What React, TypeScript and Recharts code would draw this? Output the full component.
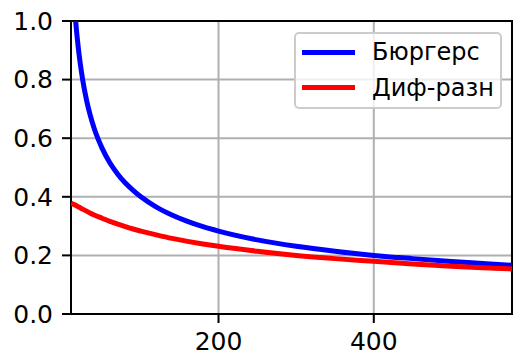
import React from 'react';
import { LineChart, Line, XAxis, YAxis, CartesianGrid, ReferenceArea } from 'recharts';

// grid size along x
const xs = [10, 12, 14, 16, 18, 20, 25, 30, 35, 40, 50, 60, 70, 80, 90, 100, 120, 140, 160, 180, 200, 250, 300, 350, 400, 450, 500, 550, 578];

const burgers = [1.265, 1.155, 1.069, 1.0, 0.943, 0.894, 0.8, 0.73, 0.676, 0.632, 0.566, 0.516, 0.478, 0.447, 0.422, 0.4, 0.365, 0.338, 0.316, 0.298, 0.283, 0.253, 0.231, 0.214, 0.2, 0.189, 0.179, 0.171, 0.166];
const difRazn = [0.378, 0.376, 0.374, 0.371, 0.368, 0.365, 0.358, 0.351, 0.344, 0.338, 0.327, 0.316, 0.307, 0.298, 0.29, 0.283, 0.27, 0.258, 0.248, 0.239, 0.231, 0.214, 0.2, 0.189, 0.18, 0.171, 0.163, 0.157, 0.154];

const xTicks = [200, 400];
const yTicks = [0, 0.2, 0.4, 0.6, 0.8, 1.0];

const series = [
  { key: 'burgers', name: 'Бюргерс', color: '#0000ff' },
  { key: 'difRazn', name: 'Диф-разн', color: '#ff0000' },
];

const data = xs.map((x, i) => ({ x, burgers: burgers[i], difRazn: difRazn[i] }));

const FONT = '"DejaVu Sans", sans-serif';
const tickStyle = { fill: '#000', fontSize: 25, fontFamily: FONT };

export default function App() {
  return (
    <div style={{ position: 'absolute', left: 0, top: 0, width: 513, height: 356, background: '#fff' }}>
      <LineChart width={513} height={356} data={data} margin={{ top: 21, right: 1, bottom: 0, left: 0 }}>
        <CartesianGrid stroke="#b0b0b0" strokeWidth={2} horizontalValues={[0.2, 0.4, 0.6, 0.8]} verticalValues={xTicks} />
        <XAxis
          dataKey="x"
          type="number"
          domain={[10, 578]}
          ticks={xTicks}
          allowDataOverflow
          height={42}
          tickSize={9}
          tickMargin={9}
          tick={tickStyle}
          axisLine={false}
          tickLine={{ stroke: '#000', strokeWidth: 2 }}
        />
        <YAxis
          type="number"
          domain={[0, 1]}
          ticks={yTicks}
          allowDataOverflow
          width={71}
          tickSize={9}
          tickMargin={9}
          tick={tickStyle}
          tickFormatter={(v: number) => v.toFixed(1)}
          axisLine={false}
          tickLine={{ stroke: '#000', strokeWidth: 2 }}
        />
        {series.map(s => (
          <Line
            key={s.key}
            dataKey={s.key}
            name={s.name}
            type="monotone"
            stroke={s.color}
            strokeWidth={5}
            dot={false}
            activeDot={false}
            isAnimationActive={false}
          />
        ))}
        <ReferenceArea x1={10} x2={578} y1={0} y2={1} fill="none" stroke="#000" strokeWidth={2} ifOverflow="visible" />
      </LineChart>
      <div
        style={{
          position: 'absolute',
          left: 294,
          top: 32,
          width: 204,
          height: 73,
          border: '2px solid #cccccc',
          borderRadius: 5,
          background: 'rgba(255,255,255,0.8)',
          fontFamily: FONT,
          fontSize: 24,
          color: '#000',
        }}
      >
        {series.map((s, i) => (
          <div key={s.key} style={{ position: 'absolute', left: 6, top: 1 + i * 35.7, height: 34, display: 'flex', alignItems: 'center' }}>
            <div style={{ width: 53, height: 5, background: s.color }} />
            <span style={{ marginLeft: 17, lineHeight: '34px', whiteSpace: 'nowrap' }}>{s.name}</span>
          </div>
        ))}
      </div>
    </div>
  );
}
